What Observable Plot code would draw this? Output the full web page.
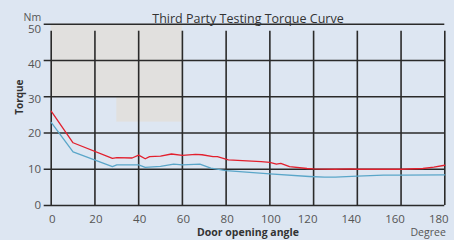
<!DOCTYPE html>
<html>
<head>
<meta charset="utf-8">
<script src="https://cdn.jsdelivr.net/npm/d3@7"></script>
<script src="https://cdn.jsdelivr.net/npm/@observablehq/plot@0.6"></script>
<style>
  html, body { margin: 0; padding: 0; background: #dde6f2; }
  #chart svg { display: block; }
</style>
</head>
<body>
<div id="chart"></div>
<script>
const redAngle  = [0, 10, 28, 30, 37, 40, 43, 45, 50, 55, 60, 66, 69, 74, 76, 81, 96, 100, 103, 105, 109, 117, 120, 130, 137, 140, 150, 160, 170, 175, 180];
const redTorque = [26, 17.3, 13, 13.2, 13.1, 13.9, 12.9, 13.5, 13.6, 14.2, 13.8, 14.1, 14, 13.5, 13.5, 12.6, 12.1, 11.9, 11.4, 11.6, 10.7, 10.2, 10.1, 10, 10.1, 10, 10, 10, 10.2, 10.6, 11.1];
const blueAngle  = [0, 10, 28, 30, 40, 43, 50, 56, 60, 68, 73, 80, 100, 118, 125, 130, 140, 152, 160, 180];
const blueTorque = [22.9, 14.8, 10.7, 11.2, 11.2, 10.5, 10.8, 11.4, 11.2, 11.4, 10.3, 9.6, 8.7, 8.0, 7.8, 7.8, 8.1, 8.35, 8.4, 8.45];
const shadeX1 = [0, 30];
const shadeX2 = [60, 60];
const shadeY1 = [30, 23];
const shadeY2 = [50, 30];
const xTicksLeft = [0, 20, 40, 60, 80, 100];
const xTicksRight = [120, 140, 160, 180];
const yTicksLow = [0, 10, 20];
const yTick30 = [30];
const yTick40 = [40];
const yTick50 = [50];
const xGrid = [0, 20, 40, 60, 80, 100, 120, 140, 160, 180];
const yGrid = [0, 10, 20, 30, 40, 50];
const title = "Third Party Testing Torque Curve";

const red = redAngle.map((a, i) => ({a, t: redTorque[i]}));
const blue = blueAngle.map((a, i) => ({a, t: blueTorque[i]}));
const shades = shadeX1.map((x1, i) => ({x1, x2: shadeX2[i], y1: shadeY1[i], y2: shadeY2[i]}));

const font = "'Open Sans', 'DejaVu Sans', sans-serif";
const gridColor = "#2a2a2a";
const tickFont = 11.5;
const yAxisOpts = (dy) => ({tickSize: 0, tickPadding: 10, fontSize: tickFont, fill: "#555", dy, label: null});

const chart = Plot.plot({
  width: 454,
  height: 240,
  marginLeft: 50.7,
  marginRight: 9.7,
  marginTop: 23.7,
  marginBottom: 35,
  style: {background: "#dde6f2", fontFamily: font, color: "#555"},
  x: {domain: [0, 180]},
  y: {domain: [0, 50]},
  marks: [
    Plot.rect(shades, {x1: "x1", x2: "x2", y1: "y1", y2: "y2", fill: "#e1e0de"}),
    Plot.ruleY(yGrid, {x1: 0, x2: 180, stroke: gridColor, strokeWidth: 1.6, insetLeft: -7}),
    Plot.ruleX(xGrid, {y1: 0, y2: 50, stroke: gridColor, strokeWidth: 1.6, insetBottom: -7}),
    Plot.axisY(yTicksLow, yAxisOpts(0)),
    Plot.axisY(yTick30, yAxisOpts(2.7)),
    Plot.axisY(yTick40, yAxisOpts(3.5)),
    Plot.axisY(yTick50, yAxisOpts(5.5)),
    Plot.axisX(xTicksLeft, {tickSize: 0, tickPadding: 9, fontSize: tickFont, fill: "#555", dx: 1, label: null}),
    Plot.axisX(xTicksRight, {tickSize: 0, tickPadding: 9, fontSize: tickFont, fill: "#555", dx: -6, label: null}),
    Plot.line(blue, {x: "a", y: "t", stroke: "#5aa6c9", strokeWidth: 1.3}),
    Plot.line(red, {x: "a", y: "t", stroke: "#e2202e", strokeWidth: 1.3}),
    Plot.text([title], {frameAnchor: "top", dy: -10.5, fontSize: 12.5, fill: "#333"}),
    Plot.text(["Nm"], {frameAnchor: "top-left", textAnchor: "end", dx: -10, dy: -11, fontSize: 10.5, fill: "#555"}),
    Plot.text(["Torque"], {frameAnchor: "left", dx: -31.5, dy: 0, rotate: -90, fontSize: 10, fontWeight: "bold", fill: "#333"}),
    Plot.text(["Door opening angle"], {frameAnchor: "bottom", dy: 30, fontSize: 10.5, fontWeight: "bold", fill: "#333"}),
    Plot.text(["Degree"], {frameAnchor: "bottom-right", textAnchor: "end", dy: 30.5, dx: 1, fontSize: 10.5, fill: "#555"})
  ]
});
document.getElementById("chart").appendChild(chart);
</script>
</body>
</html>
